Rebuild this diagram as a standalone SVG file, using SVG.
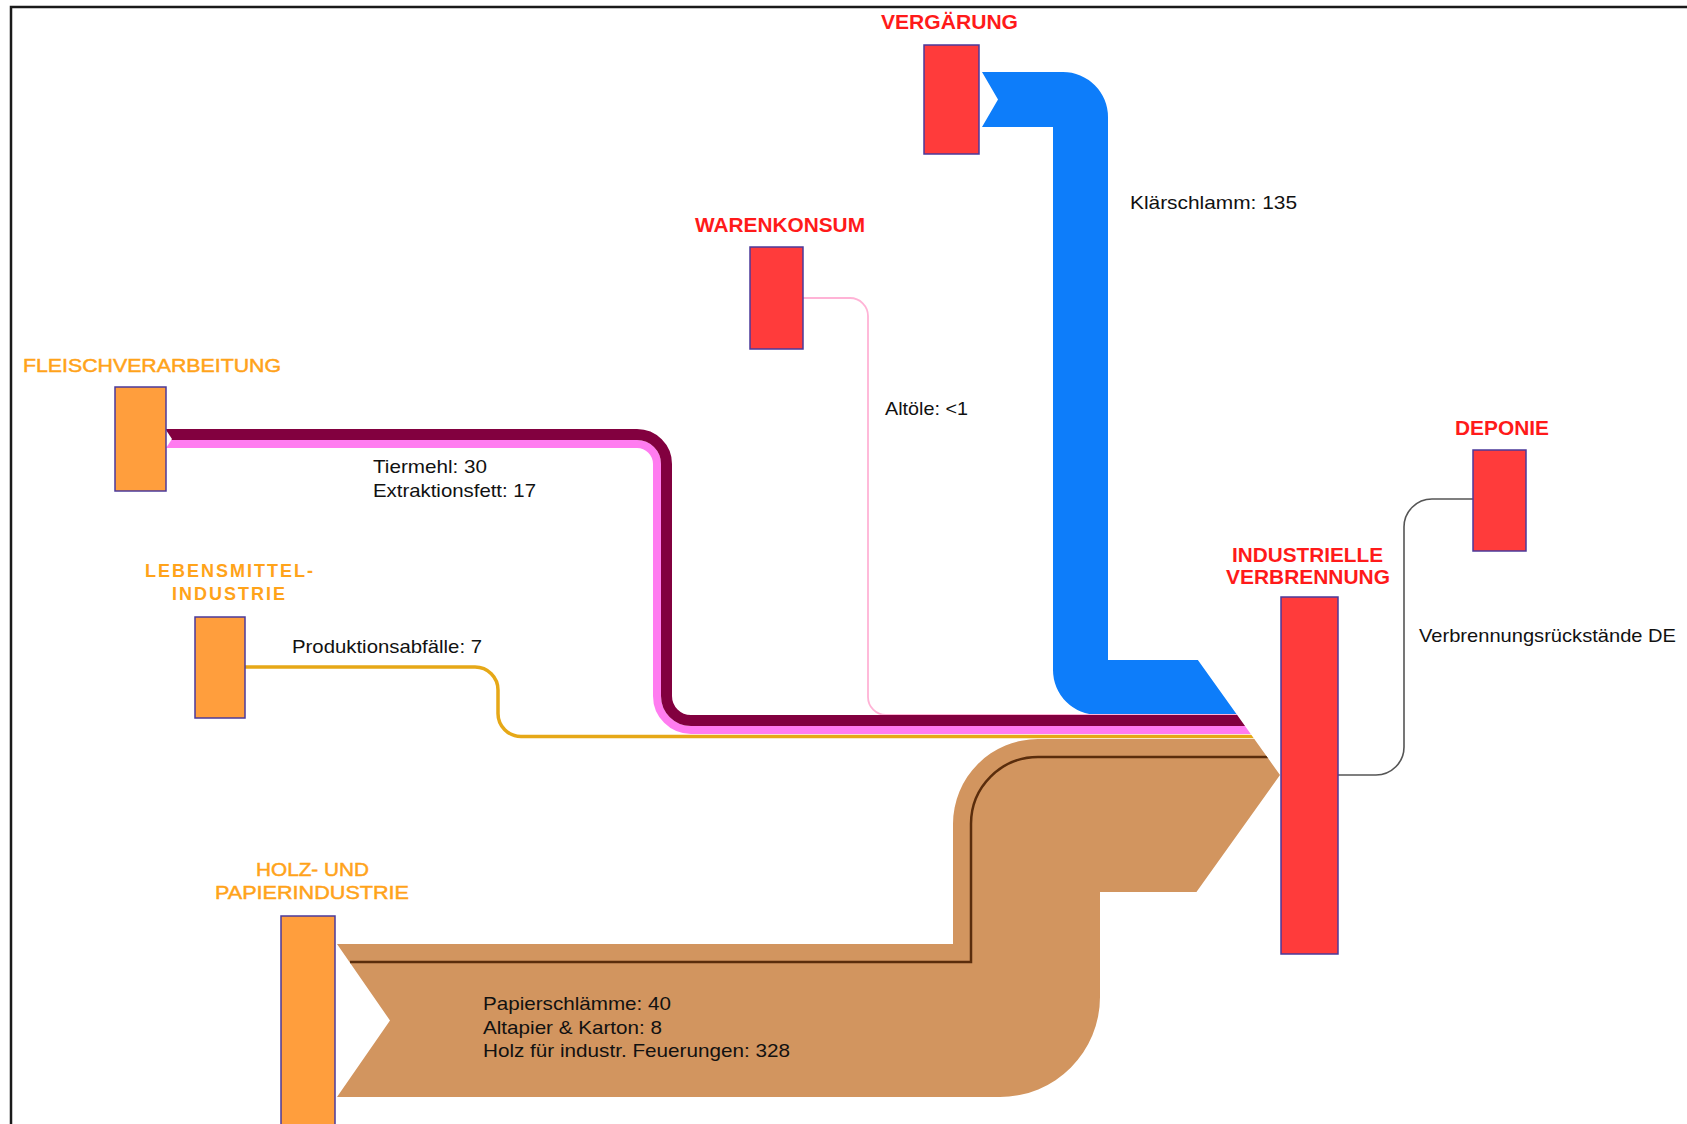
<svg xmlns="http://www.w3.org/2000/svg" width="1687" height="1124" viewBox="0 0 1687 1124">
  <defs>
    <style>
      .lbl-red { font-family: "Liberation Sans", Arial, sans-serif; font-weight: bold; font-size: 21px; fill: #ff1a1a; }
      .lbl-org { font-family: "Liberation Sans", Arial, sans-serif; font-size: 19px; fill: #ffa31a; stroke: #ffa31a; stroke-width: 0.5; }
      .lbl-org-b { font-family: "Liberation Sans", Arial, sans-serif; font-weight: bold; font-size: 18px; fill: #ffa31a; }
      .flow-lbl { font-family: "Liberation Sans", Arial, sans-serif; font-size: 19px; fill: #111; }
      .box-red { fill: #ff3b3b; stroke: #4b3a9a; stroke-width: 1.5; }
      .box-org { fill: #ff9e3d; stroke: #4b3a9a; stroke-width: 1.5; }
      .band { fill: none; }
    </style>
    <!-- all streams end in one common arrow head pointing at the incinerator -->
    <clipPath id="arrowClip">
      <path d="M0 0 H1170 V621 L1280 775 L1170 929 V1124 H0 Z"/>
    </clipPath>
  </defs>

  <rect width="1687" height="1124" fill="#ffffff"/>
  <!-- frame -->
  <path d="M11 1124 V7 H1687" fill="none" stroke="#1a1a1a" stroke-width="2.5"/>

  <g id="connectors">
    <g clip-path="url(#arrowClip)">
      <!-- Klärschlamm -->
      <path d="M982 72 H1063 A45 45 0 0 1 1108 117 V660 H1300 V715 H1098 A45 45 0 0 1 1053 670 V127 H982 L998 99.5 Z" fill="#0d7dfa"/>
      <!-- Altöle -->
      <path class="band" d="M803 298 H850 A18 18 0 0 1 868 316 V697 A18 18 0 0 0 886 715 H1300" stroke="#ffb3d6" stroke-width="1.8"/>
      <!-- Extraktionsfett -->
      <path class="band" d="M166 444 H637 A20 20 0 0 1 657 464 V696 A34 34 0 0 0 691 730 H1300" stroke="#ff7cf0" stroke-width="8"/>
      <!-- Tiermehl -->
      <path class="band" d="M166 434.5 H637 A29.5 29.5 0 0 1 666.5 464 V696 A24.5 24.5 0 0 0 691 720.5 H1300" stroke="#82003f" stroke-width="11"/>
      <polygon points="165,428.5 172,439 165,449.5" fill="#ffffff"/>
      <!-- Produktionsabfälle -->
      <path class="band" d="M245 667 H475 A23 23 0 0 1 498 690 V713.5 A23 23 0 0 0 521 736.5 H1300" stroke="#e6a817" stroke-width="3.5"/>
      <!-- Holz- und Papierindustrie -->
      <path d="M337 944 H953 V824 A85 85 0 0 1 1038 739 H1300 V892 H1100 V997 A100 100 0 0 1 1000 1097 H337 L390 1020.5 Z" fill="#d2955f"/>
      <path class="band" d="M350 962 H971 V824 A67 67 0 0 1 1038 757 H1300" stroke="#5a2d0c" stroke-width="2.5"/>
    </g>
    <!-- Verbrennungsrückstände -->
    <path class="band" d="M1338 775 H1376 A28 28 0 0 0 1404 747 V527 A28 28 0 0 1 1432 499 H1473" stroke="#555555" stroke-width="1.6"/>

    <text class="flow-lbl" x="1130" y="209" textLength="167" lengthAdjust="spacingAndGlyphs">Klärschlamm: 135</text>
    <text class="flow-lbl" x="885" y="415" textLength="83" lengthAdjust="spacingAndGlyphs">Altöle: &lt;1</text>
    <text class="flow-lbl" x="373" y="473" textLength="114" lengthAdjust="spacingAndGlyphs">Tiermehl: 30</text>
    <text class="flow-lbl" x="373" y="497" textLength="163" lengthAdjust="spacingAndGlyphs">Extraktionsfett: 17</text>
    <text class="flow-lbl" x="292" y="653" textLength="190" lengthAdjust="spacingAndGlyphs">Produktionsabfälle: 7</text>
    <text class="flow-lbl" x="483" y="1010" textLength="188" lengthAdjust="spacingAndGlyphs">Papierschlämme: 40</text>
    <text class="flow-lbl" x="483" y="1034" textLength="179" lengthAdjust="spacingAndGlyphs">Altapier &amp; Karton: 8</text>
    <text class="flow-lbl" x="483" y="1057" textLength="307" lengthAdjust="spacingAndGlyphs">Holz für industr. Feuerungen: 328</text>
    <text class="flow-lbl" x="1419" y="642" textLength="257" lengthAdjust="spacingAndGlyphs">Verbrennungsrückstände DE</text>
  </g>

  <g id="node-vergaerung">
    <rect class="box-red" x="924" y="45" width="55" height="109"/>
    <text class="lbl-red" x="881" y="29" textLength="137" lengthAdjust="spacingAndGlyphs">VERGÄRUNG</text>
  </g>
  <g id="node-warenkonsum">
    <rect class="box-red" x="750" y="247" width="53" height="102"/>
    <text class="lbl-red" x="695" y="232" textLength="170" lengthAdjust="spacingAndGlyphs">WARENKONSUM</text>
  </g>
  <g id="node-fleischverarbeitung">
    <rect class="box-org" x="115" y="387" width="51" height="104"/>
    <text class="lbl-org" x="23" y="372" textLength="258" lengthAdjust="spacingAndGlyphs">FLEISCHVERARBEITUNG</text>
  </g>
  <g id="node-lebensmittelindustrie">
    <rect class="box-org" x="195" y="617" width="50" height="101"/>
    <text class="lbl-org-b" x="145" y="577" textLength="168" lengthAdjust="spacing">LEBENSMITTEL-</text>
    <text class="lbl-org-b" x="172" y="600" textLength="113" lengthAdjust="spacing">INDUSTRIE</text>
  </g>
  <g id="node-holz-papier">
    <rect class="box-org" x="281" y="916" width="54" height="215"/>
    <text class="lbl-org" x="256" y="876" textLength="113" lengthAdjust="spacingAndGlyphs">HOLZ- UND</text>
    <text class="lbl-org" x="215" y="899" textLength="194" lengthAdjust="spacingAndGlyphs">PAPIERINDUSTRIE</text>
  </g>
  <g id="node-deponie">
    <rect class="box-red" x="1473" y="450" width="53" height="101"/>
    <text class="lbl-red" x="1455" y="435" textLength="94" lengthAdjust="spacingAndGlyphs">DEPONIE</text>
  </g>
  <g id="node-industrielle-verbrennung">
    <rect class="box-red" x="1281" y="597" width="57" height="357"/>
    <text class="lbl-red" x="1232" y="562" textLength="151" lengthAdjust="spacingAndGlyphs">INDUSTRIELLE</text>
    <text class="lbl-red" x="1226" y="584" textLength="164" lengthAdjust="spacingAndGlyphs">VERBRENNUNG</text>
  </g>
</svg>
